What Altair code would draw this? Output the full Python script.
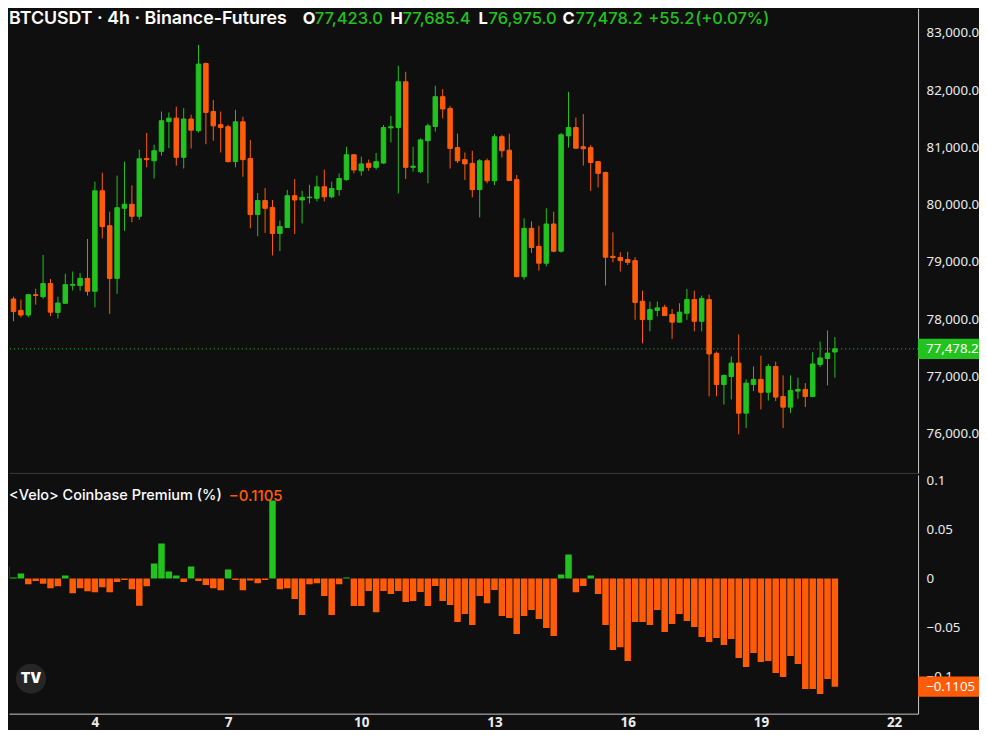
import altair as alt
import pandas as pd

# ---------------- data ----------------
START_DAY = 2.0        # first candle opens on day 2, 00:00
STEP_DAYS = 4 / 24     # 4h candles

opens = [78150, 78350, 78150, 78070, 78425, 78390, 78620, 78115, 78275, 78590,
         78585, 78710, 78485, 80240, 79630, 78710, 79935, 80005, 79795, 80805,
         80765, 80930, 81450, 81510, 80825, 81495, 81290, 82465, 81625, 81395,
         81360, 80750, 81445, 80805, 79825, 80070, 79950, 79495, 79600, 80155,
         80080, 80120, 80110, 80310, 80135, 80260, 80435, 80870, 80590, 80720,
         80650, 80725, 81340, 81345, 82145, 80650, 80575, 81115, 81365, 81885,
         81680, 80995, 80785, 80720, 80260, 80765, 80415, 81185, 80950, 80435,
         78740, 79585, 79270, 78975, 79660, 79185, 81200, 81345, 81010, 80995,
         80750, 80560, 79095, 79075, 79040, 79020, 78310, 77990, 78150, 78205,
         78080, 77945, 78100, 78340, 77960, 78340, 77400, 76855, 76995, 77230,
         76355, 76855, 76945, 76720, 77170, 76645, 76460, 76740, 76770, 76645,
         77205, 77310, 77423.0]
highs = [78380, 78390, 78340, 78430, 78530, 79120, 78700, 78390, 78790, 78830,
         78805, 79400, 80400, 80555, 79875, 80505, 80750, 80335, 80960, 81250,
         81045, 81625, 81610, 81710, 81685, 81570, 82790, 82480, 81825, 81625,
         81395, 81655, 81535, 81130, 80200, 80290, 80080, 79720, 80255, 80445,
         80240, 80345, 80505, 80610, 80400, 80545, 81010, 80875, 80835, 80785,
         80900, 81390, 81550, 82425, 82320, 81010, 81155, 81415, 82075, 82015,
         81725, 81240, 80910, 80940, 80795, 80805, 81230, 81220, 81240, 80515,
         79760, 79705, 79630, 79935, 79875, 81250, 81970, 81520, 81580, 81040,
         80765, 80575, 79515, 79165, 79175, 79080, 78495, 78305, 78305, 78250,
         78175, 78275, 78525, 78495, 78410, 78425, 77430, 77030, 77345, 77730,
         76945, 77170, 77360, 77215, 77255, 77015, 77015, 76975, 76880, 77420,
         77605, 77800, 77685.4]
lows = [78130, 77960, 78030, 78030, 78250, 78355, 78050, 78010, 78270, 78500,
        78495, 78410, 78205, 79410, 78090, 78440, 79540, 79690, 79735, 80650,
        80455, 80855, 80985, 80680, 80630, 80980, 81260, 81055, 81115, 80910,
        80735, 80650, 80485, 79585, 79445, 79505, 79110, 79185, 79590, 79485,
        79670, 80020, 80055, 80055, 80110, 80155, 80415, 80545, 80505, 80590,
        80610, 80710, 81085, 80195, 80445, 80575, 80550, 80370, 81275, 81505,
        80630, 80725, 80430, 80125, 79775, 80370, 80340, 80825, 80415, 78730,
        78690, 79155, 78845, 78920, 79165, 79160, 80995, 80970, 80680, 80240,
        80300, 78585, 78990, 78830, 78945, 77985, 77575, 77785, 78045, 78060,
        77655, 77935, 77985, 77785, 77785, 76650, 76650, 76505, 76595, 75985,
        76095, 76740, 76420, 76575, 76565, 76095, 76360, 76605, 76460, 76640,
        77160, 76840, 76975.0]
closes = [78360, 78130, 78070, 78425, 78410, 78620, 78120, 78280, 78600, 78605,
          78710, 78485, 80240, 79615, 78710, 79945, 80005, 79795, 80800, 80785,
          80940, 81465, 81510, 80825, 81495, 81300, 82455, 81610, 81375, 81345,
          80750, 81445, 80785, 79825, 80070, 79935, 79495, 79615, 80155, 80080,
          80125, 80130, 80310, 80135, 80280, 80455, 80870, 80605, 80710, 80650,
          80750, 81345, 81360, 82145, 80650, 80670, 81130, 81375, 81885, 81670,
          80980, 80765, 80710, 80260, 80765, 80415, 81185, 80940, 80420, 78740,
          79585, 79250, 78975, 79660, 79185, 81220, 81345, 80985, 80975, 80735,
          80545, 79080, 79075, 79020, 78990, 78290, 77990, 78165, 78195, 78060,
          77945, 78120, 78340, 77960, 78360, 77390, 76855, 77015, 77230, 76355,
          76880, 76945, 76720, 77170, 76635, 76460, 76750, 76770, 76645, 77215,
          77320, 77405, 77478.2]
premium = [0.012, 0.001, 0.005, -0.006, -0.0025, -0.0055, -0.010, -0.008, 0.003, -0.015,
           -0.010, -0.013, -0.014, -0.009, -0.014, -0.0035, -0.0017, -0.011, -0.028, -0.008,
           0.0153, 0.0357, 0.0071, 0.003, -0.0037, 0.0122, -0.0027, -0.0068, -0.0099, -0.012,
           0.0092, -0.0017, -0.012, -0.002, -0.0048, -0.0017, 0.0796, -0.011, -0.0099, -0.021,
           -0.0374, -0.0058, -0.0048, -0.018, -0.0374, -0.0058, 0.001, -0.0282, -0.0282, -0.0129,
           -0.0344, -0.0129, -0.016, -0.0129, -0.0241, -0.0231, -0.0139, -0.0282, -0.0078, -0.0231,
           -0.0272, -0.0446, -0.0364, -0.0476, -0.018, -0.0252, -0.0119, -0.0384, -0.0405, -0.0568,
           -0.0384, -0.0323, -0.0415, -0.0507, -0.0588, 0.004, 0.0245, -0.014, -0.0078, 0.003,
           -0.016, -0.0476, -0.0731, -0.0704, -0.0844, -0.0446, -0.0446, -0.0476, -0.0323, -0.0548,
           -0.0466, -0.0364, -0.0435, -0.0497, -0.0599, -0.065, -0.0609, -0.068, -0.0619, -0.0813,
           -0.0905, -0.0762, -0.0854, -0.0844, -0.0966, -0.1007, -0.0793, -0.0874, -0.1129, -0.1129,
           -0.118, -0.1027, -0.1105]

x_ticks = [4, 7, 10, 13, 16, 19, 22]
price_ticks = [76000, 77000, 78000, 79000, 80000, 81000, 82000, 83000]
prem_ticks = [-0.1, -0.05, 0, 0.05, 0.1]

title_text = "BTCUSDT · 4h · Binance-Futures"
ohlc_labels = ["O", "H", "L", "C"]
ohlc_values = ["77,423.0", "77,685.4", "76,975.0", "77,478.2"]
change_abs = "+55.2"
change_pct = "(+0.07%)"
prem_title = "<Velo> Coinbase Premium (%)"
prem_last_text = "\u22120.1105"

# ---------------- styling ----------------
BG = "#0f0f0f"
GREEN = "#22c21f"
ORANGE = "#ff5c0a"
LABEL = "#ececec"
AXIS_LINE = "#c8c8c8"
SEP = "#3a3a3a"
AXFONT = "Noto Sans"
HFONT = "Inter"
AXSIZE = 13.3

W = 910
H1 = 465
H2 = 239
X_MIN, X_MAX = 2.178, 22.427
P_MIN, P_MAX = 75311, 83428
Q_MIN, Q_MAX = -0.1381, 0.1058
TAG_W = 61
HEAD_Y = 11

days = [START_DAY + i * STEP_DAYS for i in range(len(opens))]
candles = pd.DataFrame({"day": days, "open": opens, "high": highs, "low": lows, "close": closes})
candles["dir"] = ["up" if c >= o else "down" for o, c in zip(opens, closes)]
prem_df = pd.DataFrame({"day": days, "prem": premium})
prem_df["dir"] = ["up" if v >= 0 else "down" for v in premium]

dir_scale = alt.Scale(domain=["up", "down"], range=[GREEN, ORANGE])
xs = alt.Scale(domain=[X_MIN, X_MAX], nice=False, zero=False)
ps = alt.Scale(domain=[P_MIN, P_MAX], nice=False, zero=False)
qs = alt.Scale(domain=[Q_MIN, Q_MAX], nice=False, zero=False)
one = pd.DataFrame({"k": [0]})

# ---------------- price panel ----------------
x_top = alt.X("day:Q", scale=xs, axis=alt.Axis(labels=False, ticks=False, tickSize=0, grid=False,
                                               domain=True, domainColor=SEP, title=None))
y_price_axis = alt.Axis(orient="right", values=price_ticks, format=",.1f", grid=False, ticks=False,
                        tickSize=0, labelPadding=8, domainColor=AXIS_LINE, labelColor=LABEL,
                        labelFont=AXFONT, labelFontSize=AXSIZE, title=None)

wicks = alt.Chart(candles).mark_rule(strokeWidth=1, clip=True).encode(
    x=x_top,
    y=alt.Y("low:Q", scale=ps, axis=y_price_axis),
    y2="high:Q",
    color=alt.Color("dir:N", scale=dir_scale, legend=None),
)
bodies = alt.Chart(candles).mark_bar(size=4.5, strokeWidth=1, clip=True, orient="vertical").encode(
    x="day:Q",
    y="open:Q",
    y2="close:Q",
    fill=alt.Fill("dir:N", scale=dir_scale, legend=None),
    stroke=alt.Stroke("dir:N", scale=dir_scale, legend=None),
)

last = pd.DataFrame({"price": [closes[-1]], "label": [f"{closes[-1]:,.1f}"]})
last_line = alt.Chart(last).mark_rule(color=GREEN, strokeDash=[1, 3], strokeWidth=1).encode(
    y="price:Q")
TAG = "M-1,-0.33L1,-0.33L1,0.33L-1,0.33Z"
last_tag = alt.Chart(last).mark_point(shape=TAG, size=TAG_W ** 2, filled=True, opacity=1,
                                      color=GREEN, strokeWidth=0).encode(
    x=alt.value(W + TAG_W / 2), y="price:Q")
last_text = alt.Chart(last).mark_text(color="white", font=AXFONT, fontSize=AXSIZE, align="left",
                                      baseline="middle").encode(
    x=alt.value(W + 8), y="price:Q", text="label:N")


def label(txt, px, py, color="white", size=16, weight=500, font=HFONT):
    return alt.Chart(one).mark_text(text=txt, color=color, fontSize=size, fontWeight=weight,
                                    font=font, align="left", baseline="middle").encode(
        x=alt.value(px), y=alt.value(py))


header = [label(title_text, 0, HEAD_Y, size=17.8, weight=600)]
lx = [294, 382, 470, 554]
vx = [306, 394, 480, 567]
for t, v, a, b in zip(ohlc_labels, ohlc_values, lx, vx):
    header.append(label(t, a, HEAD_Y, size=16.5, weight=700))
    header.append(label(v, b, HEAD_Y, color=GREEN, size=16.5))
header.append(label(change_abs, 640, HEAD_Y, color=GREEN, size=16.5))
header.append(label(change_pct, 687, HEAD_Y, color=GREEN, size=16.5))

top = alt.layer(wicks, bodies, last_line, last_tag, last_text, *header).properties(
    width=W, height=H1)

# ---------------- premium panel ----------------
x_bot = alt.X("day:Q", scale=xs, axis=alt.Axis(values=x_ticks, format="d", labelFontWeight="bold",
                                               labelColor=LABEL, labelFont=AXFONT, labelFontSize=13.5,
                                               ticks=False, tickSize=0, labelPadding=2,
                                               domainColor=AXIS_LINE, grid=False, title=None))
y_prem_axis = alt.Axis(orient="right", values=prem_ticks, format="~g", grid=False, ticks=False,
                       tickSize=0, labelPadding=8, domainColor=AXIS_LINE, labelColor=LABEL,
                       labelFont=AXFONT, labelFontSize=AXSIZE, title=None)

bars = alt.Chart(prem_df).mark_bar(size=6.5, orient="vertical", clip=True).encode(
    x=x_bot,
    y=alt.Y("prem:Q", scale=qs, axis=y_prem_axis),
    y2=alt.datum(0),
    color=alt.Color("dir:N", scale=dir_scale, legend=None),
)
plast = pd.DataFrame({"v": [premium[-1]], "label": [prem_last_text]})
prem_tag = alt.Chart(plast).mark_point(shape=TAG, size=TAG_W ** 2, filled=True, opacity=1,
                                       color=ORANGE, strokeWidth=0).encode(
    x=alt.value(W + TAG_W / 2), y="v:Q")
prem_tag_text = alt.Chart(plast).mark_text(color="white", font=AXFONT, fontSize=AXSIZE, align="left",
                                           baseline="middle").encode(
    x=alt.value(W + 8), y="v:Q", text="label:N")

prem_labels = [label(prem_title, 0, 21, size=14.5, weight=500),
               label(prem_last_text, 220, 21, color=ORANGE, size=15, weight=500)]

logo_circle = alt.Chart(one).mark_point(shape="circle", size=900, filled=True, opacity=1,
                                        color="#262626", strokeWidth=0).encode(
    x=alt.value(22), y=alt.value(204))
logo_text = alt.Chart(one).mark_text(text="TV", color="white", fontSize=14, fontWeight=900,
                                     font=HFONT, align="center", baseline="middle").encode(
    x=alt.value(22), y=alt.value(204))

bottom = alt.layer(bars, prem_tag, prem_tag_text, *prem_labels, logo_circle, logo_text).properties(
    width=W, height=H2)

chart = alt.vconcat(top, bottom, spacing=0).properties(
    padding=0, background=BG
).configure_view(strokeWidth=0)

chart.save("out.html", embed_options={"renderer": "svg", "actions": False})
